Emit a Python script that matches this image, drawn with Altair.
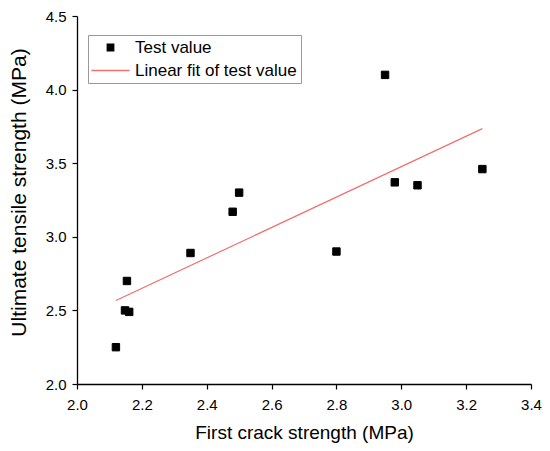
import altair as alt
import pandas as pd

# ---- data ----
first_crack = [2.12, 2.148, 2.154, 2.161, 2.35, 2.48, 2.50, 2.80, 2.95, 2.98, 3.05, 3.25]
ultimate = [2.25, 2.50, 2.70, 2.49, 2.89, 3.17, 3.30, 2.90, 4.10, 3.37, 3.35, 3.46]
fit_x = [2.12, 3.25]
fit_y = [2.567, 3.735]
series_names = ["Test value", "Linear fit of test value"]
x_tick_values = [2.0, 2.1, 2.2, 2.3, 2.4, 2.5, 2.6, 2.7, 2.8, 2.9, 3.0, 3.1, 3.2, 3.3, 3.4]
y_tick_values = [2.0, 2.25, 2.5, 2.75, 3.0, 3.25, 3.5, 3.75, 4.0, 4.25, 4.5]

df_pts = pd.DataFrame({"x": first_crack, "y": ultimate, "series": series_names[0]})
df_fit = pd.DataFrame({"x": fit_x, "y": fit_y})

FONT = "Liberation Sans"
LINE_COLOR = "#f07070"
square_path = "M-0.65,-0.65H0.65V0.65H-0.65Z"
line_path = "M-3.8,0H3.8"

x_scale = alt.Scale(domain=[2.0, 3.4], nice=False, zero=False)
y_scale = alt.Scale(domain=[2.0, 4.5], nice=False, zero=False)

x_axis = alt.Axis(
    values=x_tick_values,
    labelExpr="round(datum.value*10) % 2 == 0 ? format(datum.value, '.1f') : ''",
    tickSize={"condition": {"test": "round(datum.value*10) % 2 == 0", "value": 5}, "value": 3},
    labelFlush=False, labelOverlap=False, grid=False,
    labelFontSize=15, labelFont=FONT, labelColor="black", labelPadding=8,
    titleFontSize=19, titleFont=FONT, titleFontWeight="normal", titleColor="black",
    titlePadding=11, domainColor="black", domainWidth=1.3, tickColor="black", tickWidth=1.2,
)
y_axis = alt.Axis(
    values=y_tick_values,
    labelExpr="round(datum.value*4) % 2 == 0 ? format(datum.value, '.1f') : ''",
    tickSize={"condition": {"test": "round(datum.value*4) % 2 == 0", "value": 5}, "value": 3},
    labelFlush=False, labelOverlap=False, grid=False,
    labelFontSize=15, labelFont=FONT, labelColor="black", labelPadding=6,
    titleFontSize=21, titleFont=FONT, titleFontWeight="normal", titleColor="black",
    titlePadding=16, titleY=176, domainColor="black", domainWidth=1.3, tickColor="black", tickWidth=1.2,
)

legend = alt.Legend(
    title=None, orient="none", legendX=11, legendY=19,
    padding=4, symbolOffset=10, labelOffset=16, rowPadding=5, labelLimit=0,
    symbolSize=100, symbolStrokeWidth=1.3,
    labelFont=FONT, labelFontSize=17, labelColor="black",
    strokeColor="#999999", fillColor="white", cornerRadius=0,
)

points = alt.Chart(df_pts).mark_point(filled=True, opacity=1, size=130, strokeWidth=1).encode(
    x=alt.X("x:Q", scale=x_scale, axis=x_axis, title="First crack strength (MPa)"),
    y=alt.Y("y:Q", scale=y_scale, axis=y_axis, title="Ultimate tensile strength (MPa)"),
    shape=alt.Shape("series:N", scale=alt.Scale(domain=series_names, range=[square_path, line_path]), legend=legend),
    fill=alt.Fill("series:N", scale=alt.Scale(domain=series_names, range=["black", LINE_COLOR]), legend=legend),
    stroke=alt.Stroke("series:N", scale=alt.Scale(domain=series_names, range=["black", LINE_COLOR]), legend=legend),
)

fit = alt.Chart(df_fit).mark_line(color=LINE_COLOR, strokeWidth=1.2).encode(
    x=alt.X("x:Q", scale=x_scale),
    y=alt.Y("y:Q", scale=y_scale),
)

chart = alt.layer(fit, points).properties(
    width=454, height=368,
    autosize=alt.AutoSizeParams(type="none"),
    padding={"left": 69, "top": 8, "right": 11, "bottom": 60},
    background="white",
).configure_view(stroke=None)

chart.save("out.html", embed_options={"renderer": "svg", "actions": False})
